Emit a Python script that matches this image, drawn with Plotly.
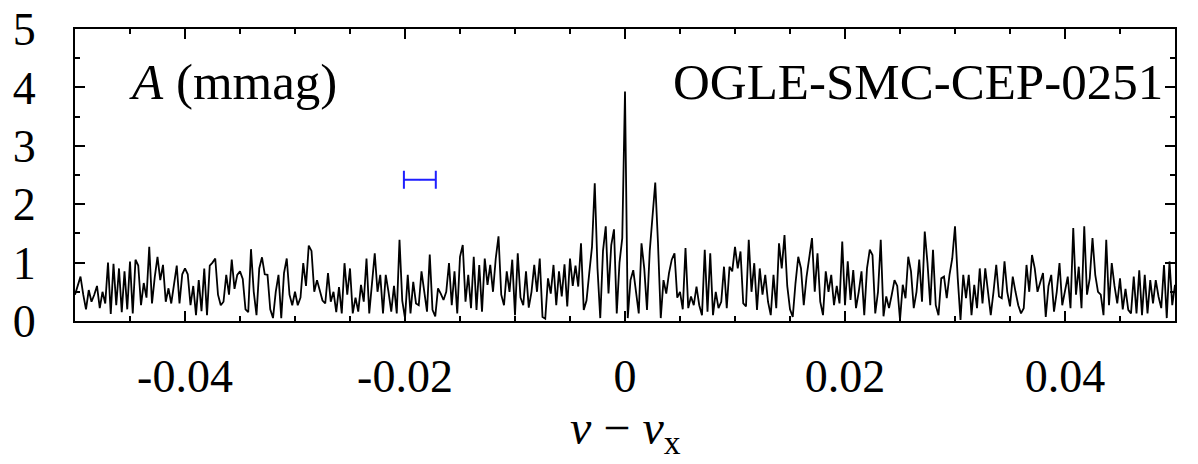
import plotly.graph_objects as go

# ---- data (amplitude spectrum, mmag) ----
freq = [
    -0.05000, -0.04975, -0.04950, -0.04925, -0.04900, -0.04875, -0.04850, -0.04825, -0.04800, -0.04775,
    -0.04750, -0.04725, -0.04700, -0.04675, -0.04650, -0.04625, -0.04600, -0.04575, -0.04550, -0.04525,
    -0.04500, -0.04475, -0.04450, -0.04425, -0.04400, -0.04375, -0.04350, -0.04325, -0.04300, -0.04275,
    -0.04250, -0.04225, -0.04200, -0.04175, -0.04150, -0.04125, -0.04100, -0.04075, -0.04050, -0.04025,
    -0.04000, -0.03975, -0.03950, -0.03925, -0.03900, -0.03875, -0.03850, -0.03825, -0.03800, -0.03775,
    -0.03750, -0.03725, -0.03700, -0.03675, -0.03650, -0.03625, -0.03600, -0.03575, -0.03550, -0.03525,
    -0.03500, -0.03475, -0.03450, -0.03425, -0.03400, -0.03375, -0.03350, -0.03325, -0.03300, -0.03275,
    -0.03250, -0.03225, -0.03200, -0.03175, -0.03150, -0.03125, -0.03100, -0.03075, -0.03050, -0.03025,
    -0.03000, -0.02975, -0.02950, -0.02925, -0.02900, -0.02875, -0.02850, -0.02825, -0.02800, -0.02775,
    -0.02750, -0.02725, -0.02700, -0.02675, -0.02650, -0.02625, -0.02600, -0.02575, -0.02550, -0.02525,
    -0.02500, -0.02475, -0.02450, -0.02425, -0.02400, -0.02375, -0.02350, -0.02325, -0.02300, -0.02275,
    -0.02250, -0.02225, -0.02200, -0.02175, -0.02150, -0.02125, -0.02100, -0.02075, -0.02050, -0.02025,
    -0.02000, -0.01975, -0.01950, -0.01925, -0.01900, -0.01875, -0.01850, -0.01825, -0.01800, -0.01775,
    -0.01750, -0.01725, -0.01700, -0.01675, -0.01650, -0.01625, -0.01600, -0.01575, -0.01550, -0.01525,
    -0.01500, -0.01475, -0.01450, -0.01425, -0.01400, -0.01375, -0.01350, -0.01325, -0.01300, -0.01275,
    -0.01250, -0.01225, -0.01200, -0.01175, -0.01150, -0.01125, -0.01100, -0.01075, -0.01050, -0.01025,
    -0.01000, -0.00975, -0.00950, -0.00925, -0.00900, -0.00875, -0.00850, -0.00825, -0.00800, -0.00775,
    -0.00750, -0.00725, -0.00700, -0.00675, -0.00650, -0.00625, -0.00600, -0.00575, -0.00550, -0.00525,
    -0.00500, -0.00475, -0.00450, -0.00425, -0.00400, -0.00375, -0.00350, -0.00325, -0.00300, -0.00275,
    -0.00250, -0.00225, -0.00200, -0.00175, -0.00150, -0.00125, -0.00100, -0.00075, -0.00050, -0.00025,
    0.00000, 0.00025, 0.00050, 0.00075, 0.00100, 0.00125, 0.00150, 0.00175, 0.00200, 0.00225,
    0.00250, 0.00275, 0.00300, 0.00325, 0.00350, 0.00375, 0.00400, 0.00425, 0.00450, 0.00475,
    0.00500, 0.00525, 0.00550, 0.00575, 0.00600, 0.00625, 0.00650, 0.00675, 0.00700, 0.00725,
    0.00750, 0.00775, 0.00800, 0.00825, 0.00850, 0.00875, 0.00900, 0.00925, 0.00950, 0.00975,
    0.01000, 0.01025, 0.01050, 0.01075, 0.01100, 0.01125, 0.01150, 0.01175, 0.01200, 0.01225,
    0.01250, 0.01275, 0.01300, 0.01325, 0.01350, 0.01375, 0.01400, 0.01425, 0.01450, 0.01475,
    0.01500, 0.01525, 0.01550, 0.01575, 0.01600, 0.01625, 0.01650, 0.01675, 0.01700, 0.01725,
    0.01750, 0.01775, 0.01800, 0.01825, 0.01850, 0.01875, 0.01900, 0.01925, 0.01950, 0.01975,
    0.02000, 0.02025, 0.02050, 0.02075, 0.02100, 0.02125, 0.02150, 0.02175, 0.02200, 0.02225,
    0.02250, 0.02275, 0.02300, 0.02325, 0.02350, 0.02375, 0.02400, 0.02425, 0.02450, 0.02475,
    0.02500, 0.02525, 0.02550, 0.02575, 0.02600, 0.02625, 0.02650, 0.02675, 0.02700, 0.02725,
    0.02750, 0.02775, 0.02800, 0.02825, 0.02850, 0.02875, 0.02900, 0.02925, 0.02950, 0.02975,
    0.03000, 0.03025, 0.03050, 0.03075, 0.03100, 0.03125, 0.03150, 0.03175, 0.03200, 0.03225,
    0.03250, 0.03275, 0.03300, 0.03325, 0.03350, 0.03375, 0.03400, 0.03425, 0.03450, 0.03475,
    0.03500, 0.03525, 0.03550, 0.03575, 0.03600, 0.03625, 0.03650, 0.03675, 0.03700, 0.03725,
    0.03750, 0.03775, 0.03800, 0.03825, 0.03850, 0.03875, 0.03900, 0.03925, 0.03950, 0.03975,
    0.04000, 0.04025, 0.04050, 0.04075, 0.04100, 0.04125, 0.04150, 0.04175, 0.04200, 0.04225,
    0.04250, 0.04275, 0.04300, 0.04325, 0.04350, 0.04375, 0.04400, 0.04425, 0.04450, 0.04475,
    0.04500, 0.04525, 0.04550, 0.04575, 0.04600, 0.04625, 0.04650, 0.04675, 0.04700, 0.04725,
    0.04750, 0.04775, 0.04800, 0.04825, 0.04850, 0.04875, 0.04900, 0.04925, 0.04950, 0.04975,
    0.05000,
]

amp_m050 = [0.45, 0.62, 0.76, 0.45, 0.20, 0.53, 0.33, 0.45, 0.60, 0.22, 0.50, 0.30, 1.00, 0.12, 0.98, 0.27, 0.90, 0.15, 0.85, 0.20]
amp_m045 = [1.02, 0.13, 1.05, 0.95, 0.27, 0.65, 0.40, 1.27, 0.30, 0.75, 1.10, 0.70, 0.96, 0.33, 0.56, 0.30, 0.59, 0.95, 0.30, 0.80]
amp_m040 = [0.90, 0.80, 0.27, 0.60, 0.10, 0.70, 0.17, 0.90, 0.10, 0.95, 1.00, 1.07, 0.45, 0.27, 0.33, 0.79, 0.45, 1.05, 0.55, 0.79]
amp_m035 = [0.85, 0.72, 0.20, 0.15, 1.23, 0.50, 0.10, 0.90, 1.09, 0.80, 0.79, 0.20, 0.05, 0.50, 0.79, 0.05, 0.82, 1.07, 0.45, 0.27]
amp_m030 = [0.50, 0.27, 0.40, 0.99, 0.60, 1.29, 1.20, 0.50, 0.70, 0.50, 0.35, 0.30, 0.82, 0.33, 0.50, 0.15, 0.58, 0.13, 0.99, 0.45]
amp_m025 = [0.90, 0.13, 0.40, 0.16, 0.62, 0.33, 1.07, 0.13, 0.60, 1.16, 0.50, 0.79, 0.13, 0.79, 0.50, 0.16, 0.60, 0.13, 1.39, 0.35]
amp_m020 = [0.05, 0.79, 0.13, 0.67, 0.30, 0.27, 0.85, 0.50, 0.16, 1.14, 0.19, 0.08, 0.56, 0.47, 0.36, 0.50, 0.99, 0.27, 0.85, 0.13]
amp_m015 = [1.10, 1.30, 0.33, 0.79, 0.22, 1.10, 0.19, 0.96, 0.16, 1.07, 0.62, 0.96, 0.50, 1.07, 1.45, 0.45, 0.27, 0.85, 0.50, 1.05]
amp_m010 = [0.10, 1.16, 0.40, 0.27, 0.85, 0.23, 0.50, 0.96, 0.50, 1.07, 0.07, 0.04, 0.73, 0.47, 0.96, 0.27, 0.85, 0.42, 0.97, 0.25]
amp_m005 = [1.07, 0.60, 0.95, 0.59, 1.33, 0.19, 0.35, 0.82, 1.27, 2.36, 0.90, 0.05, 1.20, 1.62, 0.47, 1.30, 1.57, 0.13, 1.00, 1.42]
amp_p000 = [3.93, 0.05, 0.70, 0.87, 0.47, 0.13, 1.33, 0.90, 0.19, 1.20, 1.79, 2.37, 1.33, 0.05, 0.70, 0.47, 0.82, 1.05, 1.16, 0.40]
amp_p005 = [0.50, 0.20, 1.25, 0.22, 0.42, 0.27, 0.59, 0.27, 0.10, 1.22, 0.16, 1.16, 0.10, 0.50, 0.22, 0.33, 0.93, 0.22, 0.93, 0.85]
amp_p010 = [1.27, 0.90, 1.19, 0.30, 0.25, 1.39, 0.50, 0.99, 0.19, 0.90, 0.45, 0.79, 0.33, 0.10, 0.79, 0.22, 1.33, 0.90, 1.47, 0.60]
amp_p015 = [0.20, 0.07, 0.65, 1.10, 0.90, 0.27, 0.75, 1.13, 1.42, 0.50, 1.16, 0.33, 0.10, 0.85, 0.50, 0.79, 0.27, 0.60, 0.30, 1.36]
amp_p020 = [0.27, 1.02, 0.36, 0.87, 0.22, 0.50, 0.85, 0.10, 0.90, 1.22, 1.13, 0.13, 0.50, 1.39, 0.08, 0.42, 0.22, 0.45, 0.70, 0.60]
amp_p025 = [0.02, 0.62, 0.39, 1.10, 0.85, 0.22, 0.50, 1.05, 0.33, 1.53, 0.99, 0.27, 1.22, 0.27, 0.10, 0.73, 0.76, 0.39, 0.79, 1.07]
amp_p030 = [1.62, 0.73, 0.02, 0.79, 0.39, 0.79, 0.10, 0.62, 0.22, 0.90, 0.30, 0.90, 0.45, 0.10, 0.50, 0.96, 0.42, 0.39, 1.02, 0.50]
amp_p035 = [0.25, 0.76, 0.50, 0.27, 0.13, 0.22, 0.96, 0.50, 1.13, 0.90, 0.50, 0.65, 0.82, 0.07, 0.60, 0.79, 0.16, 0.50, 0.99, 0.27]
amp_p040 = [0.50, 0.76, 0.22, 1.59, 0.45, 0.93, 0.22, 1.62, 0.45, 0.73, 1.42, 0.79, 0.50, 0.45, 0.10, 1.39, 0.27, 0.99, 0.60, 0.30]
amp_p045 = [0.73, 0.20, 0.55, 0.19, 0.13, 0.76, 0.13, 0.87, 0.10, 0.79, 0.13, 0.70, 0.30, 0.70, 0.42, 0.22, 0.96, 0.05, 1.02, 0.27]
amp_end = [0.62]

amp = (amp_m050 + amp_m045 + amp_m040 + amp_m035 + amp_m030 + amp_m025 + amp_m020
       + amp_m015 + amp_m010 + amp_m005 + amp_p000 + amp_p005 + amp_p010 + amp_p015
       + amp_p020 + amp_p025 + amp_p030 + amp_p035 + amp_p040 + amp_p045 + amp_end)

# resolution bar (blue)
errbar_x = [-0.01865]
errbar_y = [2.42]
errbar_halfwidth = [0.00145]

xtick_vals = [-0.04, -0.02, 0, 0.02, 0.04]
xtick_text = ["-0.04", "-0.02", "0", "0.02", "0.04"]
ytick_vals = [0, 1, 2, 3, 4, 5]
ytick_text = ["0", "1", "2", "3", "4", "5"]

FONT = "Liberation Serif, Times New Roman, serif"

fig = go.Figure()
fig.add_trace(go.Scatter(x=freq, y=amp, mode="lines",
                         line=dict(color="black", width=1.8), hoverinfo="skip"))
fig.add_trace(go.Scatter(x=errbar_x, y=errbar_y, mode="markers",
                         marker=dict(size=1, color="#1f1fff"),
                         error_x=dict(type="data", array=errbar_halfwidth, color="#1f1fff",
                                      thickness=2, width=9)))

fig.update_layout(
    width=1198, height=464,
    margin=dict(l=75, r=23, t=29, b=143, autoexpand=False),
    plot_bgcolor="white", paper_bgcolor="white",
    showlegend=False,
    font=dict(family=FONT, size=46, color="black"),
)
fig.update_xaxes(
    range=[-0.05, 0.05], tickmode="array", tickvals=xtick_vals, ticktext=xtick_text,
    ticks="inside", ticklen=10, tickwidth=1.5, tickcolor="black",
    showline=True, linewidth=2, linecolor="black", mirror="ticks",
    showgrid=False, zeroline=False, ticklabelstandoff=14, automargin=False,
    minor=dict(tickmode="linear", tick0=0, dtick=0.005, ticks="inside", ticklen=5,
               tickwidth=1.5, tickcolor="black", showgrid=False),
)
fig.update_yaxes(
    range=[0, 5], tickmode="array", tickvals=ytick_vals, ticktext=ytick_text,
    ticks="inside", ticklen=10, tickwidth=1.5, tickcolor="black",
    showline=True, linewidth=2, linecolor="black", mirror="ticks",
    showgrid=False, zeroline=False, ticklabelstandoff=28, automargin=False,
    minor=dict(tickmode="linear", tick0=0, dtick=0.5, ticks="inside", ticklen=5,
               tickwidth=1.5, tickcolor="black", showgrid=False),
)

fig.add_annotation(text="<i>A</i> (mmag)", xref="paper", yref="paper",
                   x=0.047, y=0.82, xanchor="left", yanchor="middle", showarrow=False,
                   font=dict(family=FONT, size=51, color="black"))
fig.add_annotation(text="OGLE-SMC-CEP-0251", xref="paper", yref="paper",
                   x=0.991, y=0.82, xanchor="right", yanchor="middle", showarrow=False,
                   font=dict(family=FONT, size=51, color="black"))
fig.add_annotation(text="<i>ν</i> − <i>ν</i><sub>x</sub>", xref="paper", yref="paper",
                   x=0.5, y=-0.375, xanchor="center", yanchor="middle", showarrow=False,
                   font=dict(family=FONT, size=48, color="black"))

fig.write_html("out.html")
